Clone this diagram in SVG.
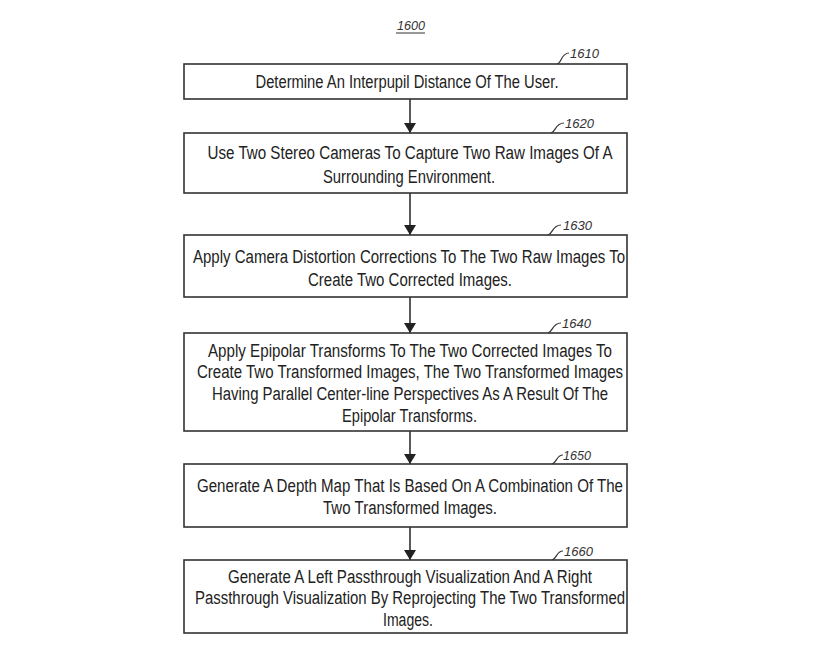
<svg xmlns="http://www.w3.org/2000/svg" width="840" height="645" viewBox="0 0 840 645">
<defs>
<style>
.box{fill:#fff;stroke:#333;stroke-width:1.6}
.t{font-family:"Liberation Sans",Arial,sans-serif;font-size:18px;fill:#222;text-anchor:middle}
.ref{font-family:"Liberation Sans",Arial,sans-serif;font-size:13.5px;font-style:italic;fill:#333}
.lead{fill:none;stroke:#333;stroke-width:1.2}
.conn{stroke:#222;stroke-width:1.5;fill:none}
</style>
<marker id="ah" viewBox="0 0 10 12" refX="10" refY="6" markerWidth="10" markerHeight="12" markerUnits="userSpaceOnUse" orient="auto">
<path d="M0,0 L10,6 L0,12 Z" fill="#222"/>
</marker>
</defs>
<rect width="840" height="645" fill="#fff"/>
<g id="title">
<text x="397" y="30" class="ref" textLength="28" lengthAdjust="spacingAndGlyphs">1600</text>
<line x1="396" y1="33" x2="425" y2="33" stroke="#333" stroke-width="1"/>
</g>
<g id="connectors">
<line x1="410" y1="99" x2="410" y2="133" class="conn" marker-end="url(#ah)"/>
<line x1="410" y1="193" x2="410" y2="235" class="conn" marker-end="url(#ah)"/>
<line x1="410" y1="297" x2="410" y2="333" class="conn" marker-end="url(#ah)"/>
<line x1="410" y1="431" x2="410" y2="464" class="conn" marker-end="url(#ah)"/>
<line x1="410" y1="527" x2="410" y2="560" class="conn" marker-end="url(#ah)"/>
</g>
<g id="n1610">
<rect x="184" y="64" width="443" height="35" class="box"/>
<text x="407" y="88" class="t" textLength="303" lengthAdjust="spacingAndGlyphs">Determine An Interpupil Distance Of The User.</text>
<path d="M557,64 C562,63 561,53 569,53" class="lead"/>
<text x="570" y="58" class="ref" textLength="29" lengthAdjust="spacingAndGlyphs">1610</text>
</g>
<g id="n1620">
<rect x="184" y="133" width="443" height="60" class="box"/>
<text x="410" y="159" class="t" textLength="405" lengthAdjust="spacingAndGlyphs">Use Two Stereo Cameras To Capture Two Raw Images Of A</text>
<text x="409" y="183" class="t" textLength="172" lengthAdjust="spacingAndGlyphs">Surrounding Environment.</text>
<path d="M551,133 C556,132 555,123 564,123" class="lead"/>
<text x="565" y="128" class="ref" textLength="29" lengthAdjust="spacingAndGlyphs">1620</text>
</g>
<g id="n1630">
<rect x="184" y="235" width="443" height="62" class="box"/>
<text x="409" y="263" class="t" textLength="432" lengthAdjust="spacingAndGlyphs">Apply Camera Distortion Corrections To The Two Raw Images To</text>
<text x="410" y="286" class="t" textLength="204" lengthAdjust="spacingAndGlyphs">Create Two Corrected Images.</text>
<path d="M548,235 C553,234 552,225 561,225" class="lead"/>
<text x="563" y="230" class="ref" textLength="29" lengthAdjust="spacingAndGlyphs">1630</text>
</g>
<g id="n1640">
<rect x="184" y="333" width="443" height="98" class="box"/>
<text x="410" y="357" class="t" textLength="404" lengthAdjust="spacingAndGlyphs">Apply Epipolar Transforms To The Two Corrected Images To</text>
<text x="410" y="378" class="t" textLength="426" lengthAdjust="spacingAndGlyphs">Create Two Transformed Images, The Two Transformed Images</text>
<text x="410" y="400" class="t" textLength="396" lengthAdjust="spacingAndGlyphs">Having Parallel Center-line Perspectives As A Result Of The</text>
<text x="409.5" y="422" class="t" textLength="135" lengthAdjust="spacingAndGlyphs">Epipolar Transforms.</text>
<path d="M548,333 C553,332 552,323 561,323" class="lead"/>
<text x="562" y="328" class="ref" textLength="29" lengthAdjust="spacingAndGlyphs">1640</text>
</g>
<g id="n1650">
<rect x="184" y="464" width="443" height="63" class="box"/>
<text x="410" y="492" class="t" textLength="426" lengthAdjust="spacingAndGlyphs">Generate A Depth Map That Is Based On A Combination Of The</text>
<text x="410" y="514" class="t" textLength="174" lengthAdjust="spacingAndGlyphs">Two Transformed Images.</text>
<path d="M552,464 C557,463 556,455 563,455" class="lead"/>
<text x="563" y="460" class="ref" textLength="28" lengthAdjust="spacingAndGlyphs">1650</text>
</g>
<g id="n1660">
<rect x="184" y="560" width="443" height="73" class="box"/>
<text x="410" y="583" class="t" textLength="364" lengthAdjust="spacingAndGlyphs">Generate A Left Passthrough Visualization And A Right</text>
<text x="410" y="604" class="t" textLength="430" lengthAdjust="spacingAndGlyphs">Passthrough Visualization By Reprojecting The Two Transformed</text>
<text x="408" y="626" class="t" textLength="50" lengthAdjust="spacingAndGlyphs">Images.</text>
<path d="M552,560 C557,559 556,551 563,551" class="lead"/>
<text x="564" y="556" class="ref" textLength="29" lengthAdjust="spacingAndGlyphs">1660</text>
</g>
</svg>
